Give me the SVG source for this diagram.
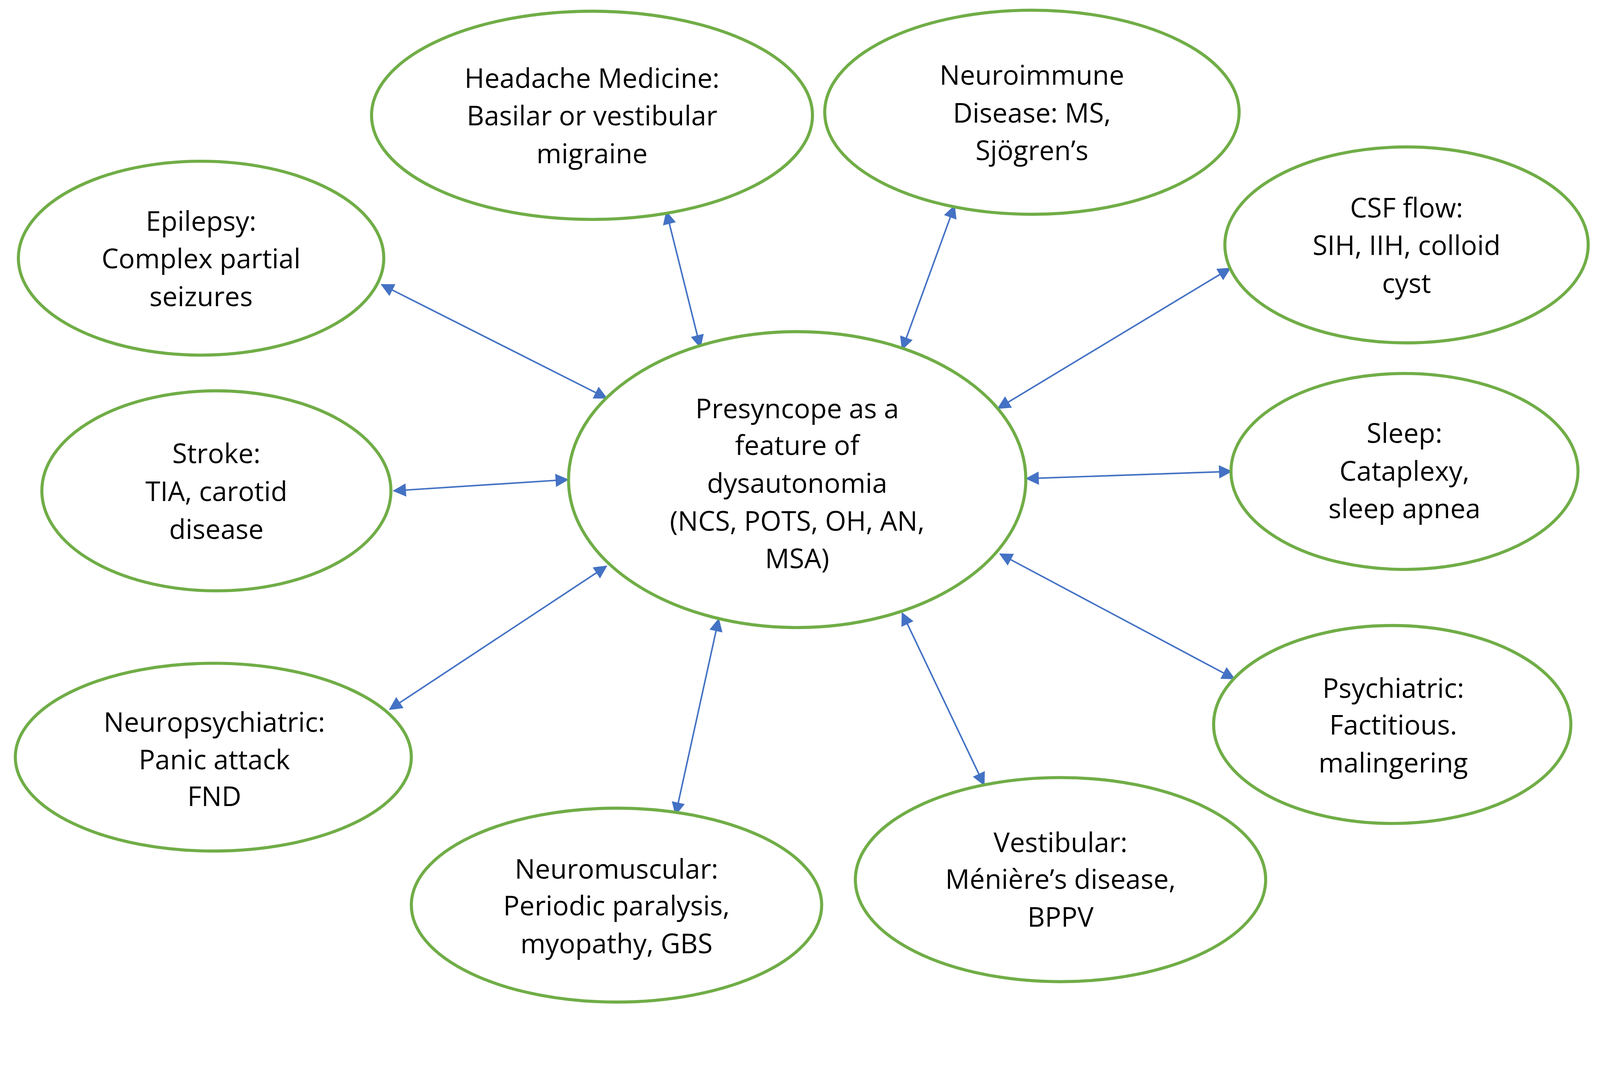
<svg xmlns="http://www.w3.org/2000/svg" width="4360" height="2763" viewBox="0 0 4360 2763">
<style>
.n ellipse{fill:#fff;stroke:#70AD47;stroke-width:3}
.n text{font-family:"Open Sans","Liberation Sans",sans-serif;font-size:26.5px;fill:#000;text-anchor:middle}
.c line{stroke:#4472C4;stroke-width:1.5;marker-start:url(#a);marker-end:url(#a)}
</style>
<defs><marker id="a" viewBox="0 0 10 10" refX="9" refY="5" markerWidth="14" markerHeight="13" markerUnits="userSpaceOnUse" orient="auto-start-reverse"><path d="M0,0L10,5L0,10z" fill="#4472C4"/></marker></defs>
<rect width="4360" height="2763" fill="#fff"/>
<g transform="scale(2.613)">
<g class="c">
<line x1="374" y1="279" x2="594" y2="390"/>
<line x1="653" y1="208" x2="686" y2="340"/>
<line x1="935" y1="202" x2="884" y2="342"/>
<line x1="1205" y1="263" x2="978" y2="400"/>
<line x1="386" y1="481" x2="556" y2="470"/>
<line x1="1006" y1="469" x2="1206" y2="462"/>
<line x1="382" y1="695" x2="594" y2="555"/>
<line x1="704" y1="607" x2="662" y2="798"/>
<line x1="884" y1="601" x2="964" y2="769"/>
<line x1="980" y1="543" x2="1209" y2="665"/>
</g>
<g id="center" class="n"><ellipse cx="781" cy="470" rx="224" ry="145"/><text x="781" y="410">Presyncope as a</text><text x="781" y="446">feature of</text><text x="781" y="483">dysautonomia</text><text x="781" y="520">(NCS, POTS, OH, AN,</text><text x="781" y="557">MSA)</text></g>
<g id="headache" class="n"><ellipse cx="580" cy="113" rx="216" ry="102"/><text x="580" y="86">Headache Medicine:</text><text x="580" y="123">Basilar or vestibular</text><text x="580" y="160">migraine</text></g>
<g id="neuroimmune" class="n"><ellipse cx="1011" cy="110" rx="203" ry="100"/><text x="1011" y="83">Neuroimmune</text><text x="1011" y="120">Disease: MS,</text><text x="1011" y="157">Sjögren’s</text></g>
<g id="epilepsy" class="n"><ellipse cx="197" cy="253" rx="179" ry="95"/><text x="197" y="226">Epilepsy:</text><text x="197" y="263">Complex partial</text><text x="197" y="300">seizures</text></g>
<g id="csf" class="n"><ellipse cx="1378" cy="240" rx="178" ry="96"/><text x="1378" y="213">CSF flow:</text><text x="1378" y="250">SIH, IIH, colloid</text><text x="1378" y="287">cyst</text></g>
<g id="stroke" class="n"><ellipse cx="212" cy="481" rx="171" ry="98"/><text x="212" y="454">Stroke:</text><text x="212" y="491">TIA, carotid</text><text x="212" y="528">disease</text></g>
<g id="sleep" class="n"><ellipse cx="1376" cy="462" rx="170" ry="96"/><text x="1376" y="434">Sleep:</text><text x="1376" y="471">Cataplexy,</text><text x="1376" y="508">sleep apnea</text></g>
<g id="neuropsych" class="n"><ellipse cx="209" cy="742" rx="194" ry="92"/><text x="210" y="717">Neuropsychiatric:</text><text x="210" y="754">Panic attack</text><text x="210" y="790">FND</text></g>
<g id="psychiatric" class="n"><ellipse cx="1364" cy="710" rx="175" ry="97"/><text x="1365" y="684">Psychiatric:</text><text x="1365" y="720">Factitious.</text><text x="1365" y="757">malingering</text></g>
<g id="neuromuscular" class="n"><ellipse cx="604" cy="887" rx="201" ry="95"/><text x="604" y="861">Neuromuscular:</text><text x="604" y="897">Periodic paralysis,</text><text x="604" y="934">myopathy, GBS</text></g>
<g id="vestibular" class="n"><ellipse cx="1039" cy="862" rx="201" ry="100"/><text x="1039" y="835">Vestibular:</text><text x="1039" y="871">Ménière’s disease,</text><text x="1039" y="908">BPPV</text></g>
</g>
</svg>
